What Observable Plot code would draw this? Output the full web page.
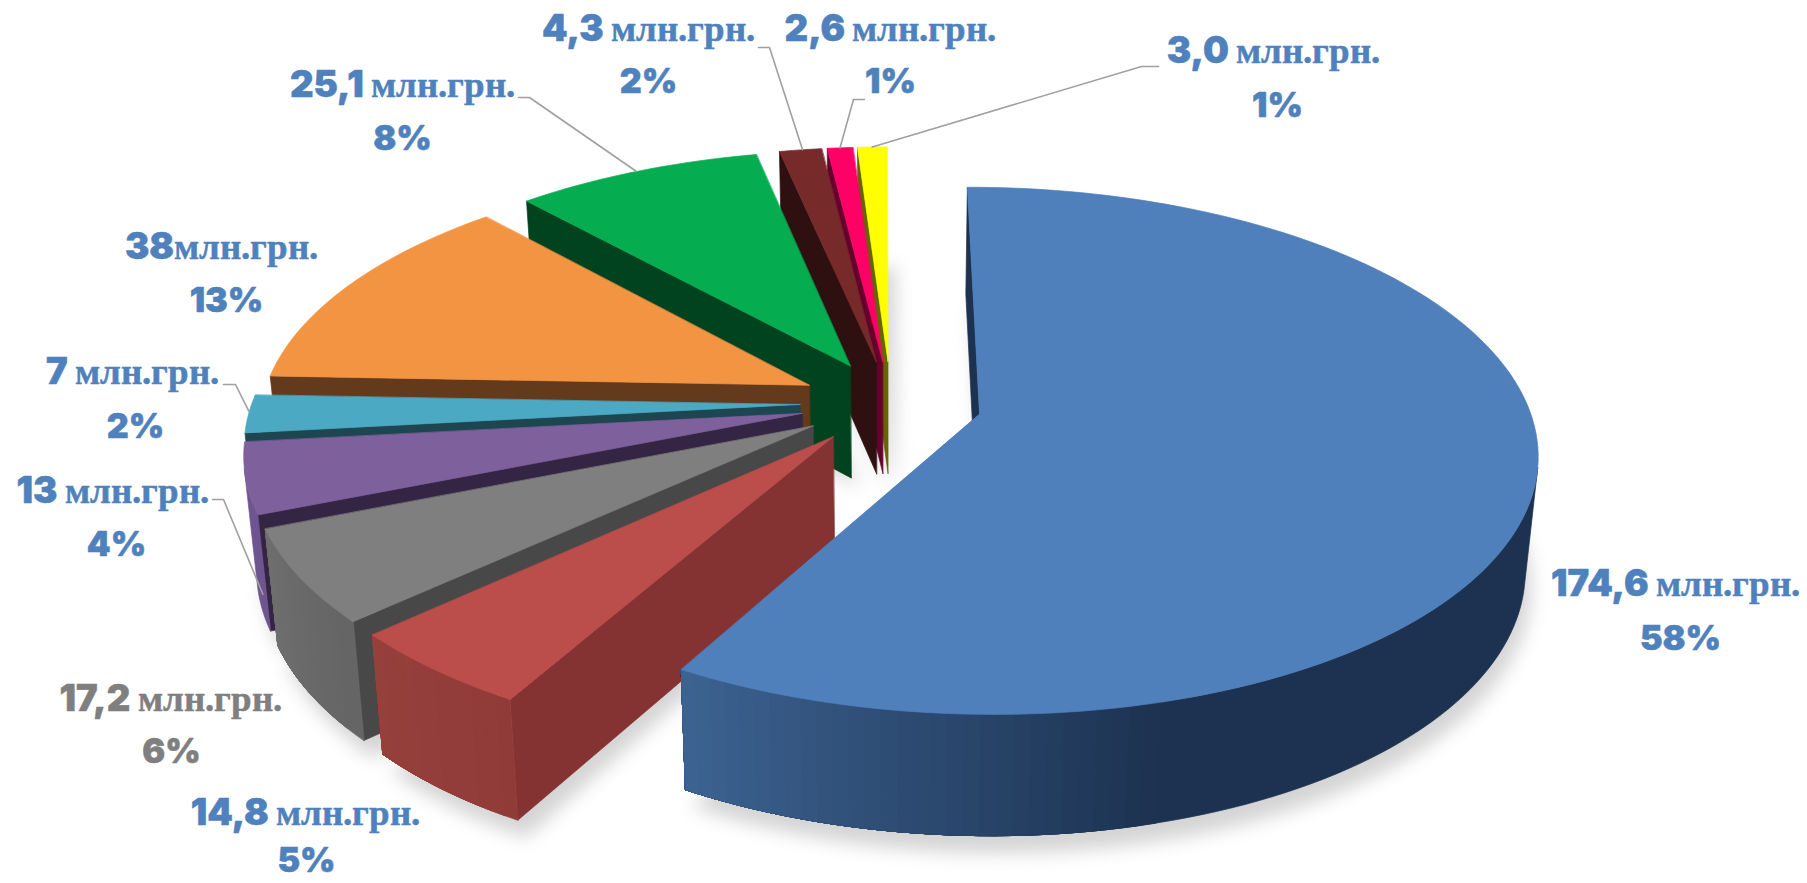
<!DOCTYPE html>
<html><head><meta charset="utf-8">
<style>
@font-face{font-family:"CyrSerif";src:local("Liberation Serif Bold"),local("LiberationSerif-Bold");font-weight:100 900;unicode-range:U+002E,U+0400-04FF;}
html,body{margin:0;padding:0;background:#fff;}
svg{display:block;}
</style>
<script src="https://cdn.jsdelivr.net/npm/d3@7"></script>
<script src="https://cdn.jsdelivr.net/npm/@observablehq/plot@0.6"></script>
</head><body><div id="chart"></div>
<script>
// ---- data (clockwise from the top)
const names   = ["a","b","c","d","e","f","g","h","i","j"];
const values  = [174.6,14.8,17.2,13,7,38,25.1,4.3,2.6,3.0];
const amounts = ["174,6 млн.грн.","14,8 млн.грн.","17,2 млн.грн.","13 млн.грн.","7 млн.грн.","38млн.грн.","25,1 млн.грн.","4,3 млн.грн.","2,6 млн.грн.","3,0 млн.грн."];
const percents= ["58%","5%","6%","4%","2%","13%","8%","2%","1%","1%"];
// ---- styles
const topColors  = ["#4F80BC","#BB4E4A","#7F7F7F","#7E619C","#4BA9C4","#F39443","#05AD50","#772A2A","#FF0066","#FFFF00"];
const sideColors = ["#1C3250","#843232","#484848","#352545","#1D4650","#643A1C","#02431F","#2F1010","#66002C","#666600"];
const rimLight   = ["#3D6392","#96403C","#6E6E6E","#6E5590","#3A8298","#B56F30","#048040","#4A1A1A","#A00040","#A0A000"];
const rimDark    = ["#1C3250","#8A3535","#606060","#6E5590","#3A8298","#B56F30","#048040","#4A1A1A","#A00040","#A0A000"];
const rimSpan    = [45,40,30,20,20,20,20,20,20,20];
const labelFill  = ["#4F81BD","#4F81BD","#7F7F7F","#4F81BD","#4F81BD","#4F81BD","#4F81BD","#4F81BD","#4F81BD","#4F81BD"];
// ---- view of the tilted pie
const view = {cx:890.5, cy:402.5, R:548, tilt:.466, dist:3930, explode:91, depth:113, startDeg:-.15};
// ---- annotation layout
const amountAt = [[1675,595],[305,824],[170,710],[112,502],[132,383],[221,258],[402,96],[648,40],[890,40],[1273,62]];
const percentAt= [[1680,649],[306,871],[171,762],[116,555],[135,437],[226,311],[402,149],[648,92],[890,92],[1277,116]];
const leaderFrom = {3:[[212,499],[223,499]],4:[[223,384],[235,384]],6:[[518,97],[529,97]],7:[[758,47],[769,47]],8:[[864,99],[853,99]],9:[[1158,66],[1141,66]]};
const leaderEnd  = {3:[.15,88],4:[.55,0],6:[.5,0],7:[.55,0],8:[.5,0],9:[.5,0]}; // fraction of slice arc, drop below the rim

const total = d3.sum(values), rad = Math.PI/180;
function proj(X,Y,h=0){
  const w = 1 - Y/view.dist, p = 1/w;
  return [view.cx + X*p*(1-.02*h/view.depth), view.cy + view.tilt*Y*p + h*Math.pow(p,.45)];
}
let acc = view.startDeg;
const slices = values.map((v,i)=>{
  const a0 = acc, a1 = acc + v/total*360; acc = a1;
  const m = (a0+a1)/2*rad;
  return {i,a0,a1,ox:view.explode*Math.sin(m),oy:-view.explode*Math.cos(m)};
});
const rimPt = (s,deg,h=0)=>proj(s.ox+view.R*Math.sin(deg*rad), s.oy-view.R*Math.cos(deg*rad), h);
const apexPt = (s,h=0)=>proj(s.ox,s.oy,h);
const shoelace = P=>d3.sum(P,(p,k)=>{const q=P[(k+1)%P.length];return p[0]*q[1]-q[0]*p[1];});

const faces=[], shadow=[]; let id=0;
const addFace=(list,P,color)=>{id++;P.forEach(p=>list.push({id,x:p[0],y:p[1],color}));};
const drawOrder = d3.range(values.length).reverse();
for(const k of drawOrder){
  const s=slices[k], n=Math.max(2,Math.ceil((s.a1-s.a0)/1.5));
  const degs=d3.range(n+1).map(j=>s.a0+(s.a1-s.a0)*j/n);
  const wall=(A,B,c)=>{const Q=[A(0),B(0),B(view.depth),A(view.depth)]; if(shoelace(Q)<0) addFace(faces,Q,c);};
  wall(h=>apexPt(s,h),h=>rimPt(s,s.a0,h),sideColors[k]);
  // rim: each band runs from its own angle to the end of the visible rim; later bands overpaint, so no seams
  const visible=d3.range(n).filter(j=>shoelace([rimPt(s,degs[j]),rimPt(s,degs[j+1]),rimPt(s,degs[j+1],view.depth),rimPt(s,degs[j],view.depth)])<0);
  if(visible.length){
    const last=visible[visible.length-1]+1;
    let prev=null;
    for(const j of visible){
      const mix=Math.min(1,(s.a1-degs[j]-.75)/rimSpan[k]);
      const c=d3.interpolateRgb(rimLight[k],rimDark[k])(mix);
      if(c===prev) continue;
      prev=c;
      const arc=degs.slice(j,last+1);
      addFace(faces,[...arc.map(d=>rimPt(s,d)),...arc.slice().reverse().map(d=>rimPt(s,d,view.depth))],c);
    }
  }
  wall(h=>rimPt(s,s.a1,h),h=>apexPt(s,h),sideColors[k]);
  addFace(faces,[apexPt(s),...degs.map(d=>rimPt(s,d))],topColors[k]);
  addFace(shadow,[apexPt(s,view.depth+6),...degs.map(d=>rimPt(s,d,view.depth+14))],"#d4d4d4");
}
const polygon=(data,extra={})=>Plot.line(data,{x:"x",y:"y",z:"id",curve:"linear-closed",
  fill:{value:d=>d.color,scale:null},stroke:{value:d=>d.color,scale:null},strokeWidth:.7,strokeLinejoin:"round",...extra});

const labels=values.map((v,i)=>({amount:amounts[i],percent:percents[i],fill:labelFill[i],ax:amountAt[i][0],ay:amountAt[i][1],px:percentAt[i][0],py:percentAt[i][1]}));
const leaders=[];
for(const [k,from] of Object.entries(leaderFrom)){
  const s=slices[k],[f,h]=leaderEnd[k];
  [...from,rimPt(s,s.a0+(s.a1-s.a0)*f,h)].forEach(p=>leaders.push({k,x:p[0],y:p[1]}));
}
const labelFont=`"CyrSerif","Inter","Open Sans",sans-serif`;
const textStyle={fill:{value:"fill",scale:null},stroke:{value:"fill",scale:null},strokeWidth:.5,fontWeight:900,fontFamily:labelFont,textAnchor:"middle",lineAnchor:"bottom"};
const chart=Plot.plot({
  width:1807,height:883,margin:0,
  x:{domain:[0,1807],range:[0,1807],axis:null},
  y:{domain:[0,883],range:[0,883],axis:null},
  style:{background:"#fff"},
  marks:[
    Plot.line(shadow.map(d=>({...d,x:d.x+7,y:d.y+2})),{x:"x",y:"y",z:"id",curve:"linear-closed",fill:"#d4d4d4",stroke:"#d4d4d4",strokeWidth:1,imageFilter:"blur(9px)"}),
    polygon(faces),
    Plot.line(leaders,{x:"x",y:"y",z:"k",stroke:"#a0a0a0",strokeWidth:1.6}),
    Plot.text(labels,{x:"ax",y:"ay",text:"amount",fontSize:36.5,...textStyle}),
    Plot.text(labels,{x:"px",y:"py",text:"percent",fontSize:34,...textStyle})
  ]
});
document.getElementById("chart").append(chart);
</script></body></html>
